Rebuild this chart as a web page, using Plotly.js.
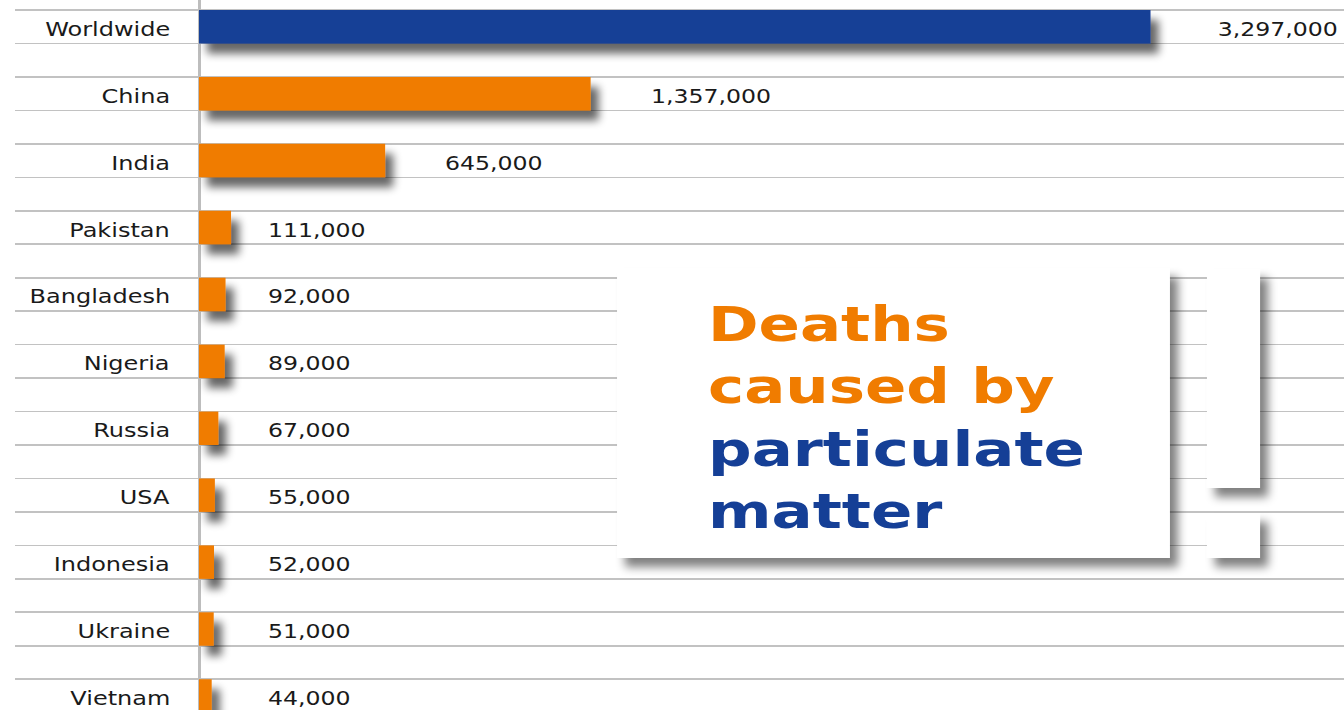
<!DOCTYPE html>
<html>
<head>
<meta charset="utf-8">
<script src="https://cdn.plot.ly/plotly-3.0.1.min.js"></script>
<style>
  html, body { margin: 0; padding: 0; background: #fff; }
  #chart { width: 1344px; height: 710px; }
</style>
</head>
<body>
<svg width="0" height="0" style="position:absolute">
  <defs>
    <filter id="barShadow" filterUnits="userSpaceOnUse" x="-200" y="-200" width="3000" height="3000">
      <feGaussianBlur in="SourceAlpha" stdDeviation="4.5"/>
      <feOffset dx="8" dy="10" result="o"/>
      <feComponentTransfer><feFuncA type="linear" slope="0.6"/></feComponentTransfer>
      <feMerge><feMergeNode/><feMergeNode in="SourceGraphic"/></feMerge>
    </filter>
    <filter id="boxShadow" filterUnits="userSpaceOnUse" x="-200" y="-200" width="3000" height="3000">
      <feGaussianBlur in="SourceAlpha" stdDeviation="5"/>
      <feOffset dx="8" dy="9" result="o"/>
      <feComponentTransfer><feFuncA type="linear" slope="0.5"/></feComponentTransfer>
      <feMerge><feMergeNode/><feMergeNode in="SourceGraphic"/></feMerge>
    </filter>
  </defs>
</svg>
<div id="chart"></div>
<script>
const categories = ['Worldwide','China','India','Pakistan','Bangladesh','Nigeria','Russia','USA','Indonesia','Ukraine','Vietnam'];
const deaths = [3297000,1357000,645000,111000,92000,89000,67000,55000,52000,51000,44000];
const valueLabels = ['3,297,000','1,357,000','645,000','111,000','92,000','89,000','67,000','55,000','52,000','51,000','44,000'];
const titleOrange = ['Deaths','caused by'];
const titleBlue = ['particulate','matter'];

const BLUE = '#153f96';
const ORANGE = '#f07c00';
const FONT = 'DejaVu Sans';

const idx = categories.map((c, i) => i);

const trace = {
  type: 'bar',
  orientation: 'h',
  x: deaths,
  y: idx,
  width: 0.5,
  marker: { color: idx.map(i => i === 0 ? BLUE : ORANGE), line: { width: 0 } },
  hoverinfo: 'none'
};

// horizontal stretch factor per annotation (style only)
const stretch = [];
const annotations = [];
categories.forEach((c, i) => {
  annotations.push({
    x: 0, y: i, xref: 'x', yref: 'y', text: c, showarrow: false,
    xanchor: 'right', yanchor: 'middle', xshift: -27, yshift: -2,
    font: { family: FONT, size: 20, color: '#1a1a1a' }
  });
  stretch.push({ s: 1.2, origin: 'right' });
});
valueLabels.forEach((t, i) => {
  let a, origin = 'left';
  if (i === 0) {
    a = { x: 1, xref: 'paper', xanchor: 'right', xshift: -4 };
    origin = 'right';
  } else if (deaths[i] > 200000) {
    a = { x: deaths[i], xref: 'x', xanchor: 'left', xshift: 58 };
  } else {
    a = { x: 0, xref: 'x', xanchor: 'left', xshift: 67 };
  }
  annotations.push(Object.assign(a, {
    y: i, yref: 'y', text: t, showarrow: false, yanchor: 'middle', yshift: -2,
    font: { family: FONT, size: 20, color: '#1a1a1a' }
  }));
  stretch.push({ s: 1.18, origin: origin });
});
annotations.push({
  x: 0.520, y: 0.412, xref: 'paper', yref: 'paper', xanchor: 'left', yanchor: 'middle',
  align: 'left', showarrow: false,
  text: titleOrange.join('<br>') + '<br>' + titleBlue.map(t => '<span style="color:' + BLUE + '">' + t + '</span>').join('<br>'),
  font: { family: FONT, size: 48, color: ORANGE, weight: 'bold' }
});
stretch.push({ s: 1.27, origin: 'left' });

const shapes = [
  { type: 'rect', xref: 'paper', yref: 'paper', x0: 0.453, x1: 0.869, y0: 0.2141, y1: 0.6225, fillcolor: '#ffffff', line: { width: 0 }, layer: 'above' },
  { type: 'rect', xref: 'paper', yref: 'paper', x0: 0.8969, x1: 0.9368, y0: 0.3127, y1: 0.6211, fillcolor: '#ffffff', line: { width: 0 }, layer: 'above' },
  { type: 'rect', xref: 'paper', yref: 'paper', x0: 0.8969, x1: 0.9368, y0: 0.2141, y1: 0.2775, fillcolor: '#ffffff', line: { width: 0 }, layer: 'above' }
];

const layout = {
  width: 1344, height: 710,
  margin: { l: 15, r: 0, t: 0, b: 0, pad: 0 },
  paper_bgcolor: '#ffffff', plot_bgcolor: '#ffffff',
  showlegend: false,
  xaxis: {
    range: [-637560, 3967425], showgrid: false, showticklabels: false, ticks: '',
    zeroline: true, zerolinecolor: '#bdbdbd', zerolinewidth: 3, fixedrange: true
  },
  yaxis: {
    range: [10.21, -0.40], tickmode: 'linear', tick0: 0.25, dtick: 0.5,
    showgrid: true, gridcolor: '#c2c2c2', gridwidth: 1.6,
    showticklabels: false, ticks: '', zeroline: false, fixedrange: true
  },
  annotations: annotations,
  shapes: shapes
};

Plotly.newPlot('chart', [trace], layout, { displayModeBar: false, staticPlot: true }).then(() => {
  document.querySelectorAll('.trace.bars path').forEach(p => p.setAttribute('filter', 'url(#barShadow)'));
  document.querySelectorAll('.shapelayer path').forEach(p => p.setAttribute('filter', 'url(#boxShadow)'));
  document.querySelectorAll('g.annotation').forEach(g => {
    const k = parseInt(g.getAttribute('data-index'), 10);
    const st = stretch[k];
    const t = g.querySelector('text.annotation-text');
    if (!st || !t) return;
    t.style.transformBox = 'fill-box';
    t.style.transformOrigin = st.origin + ' center';
    t.style.transform = 'scaleX(' + st.s + ')';
  });
});
</script>
</body>
</html>
